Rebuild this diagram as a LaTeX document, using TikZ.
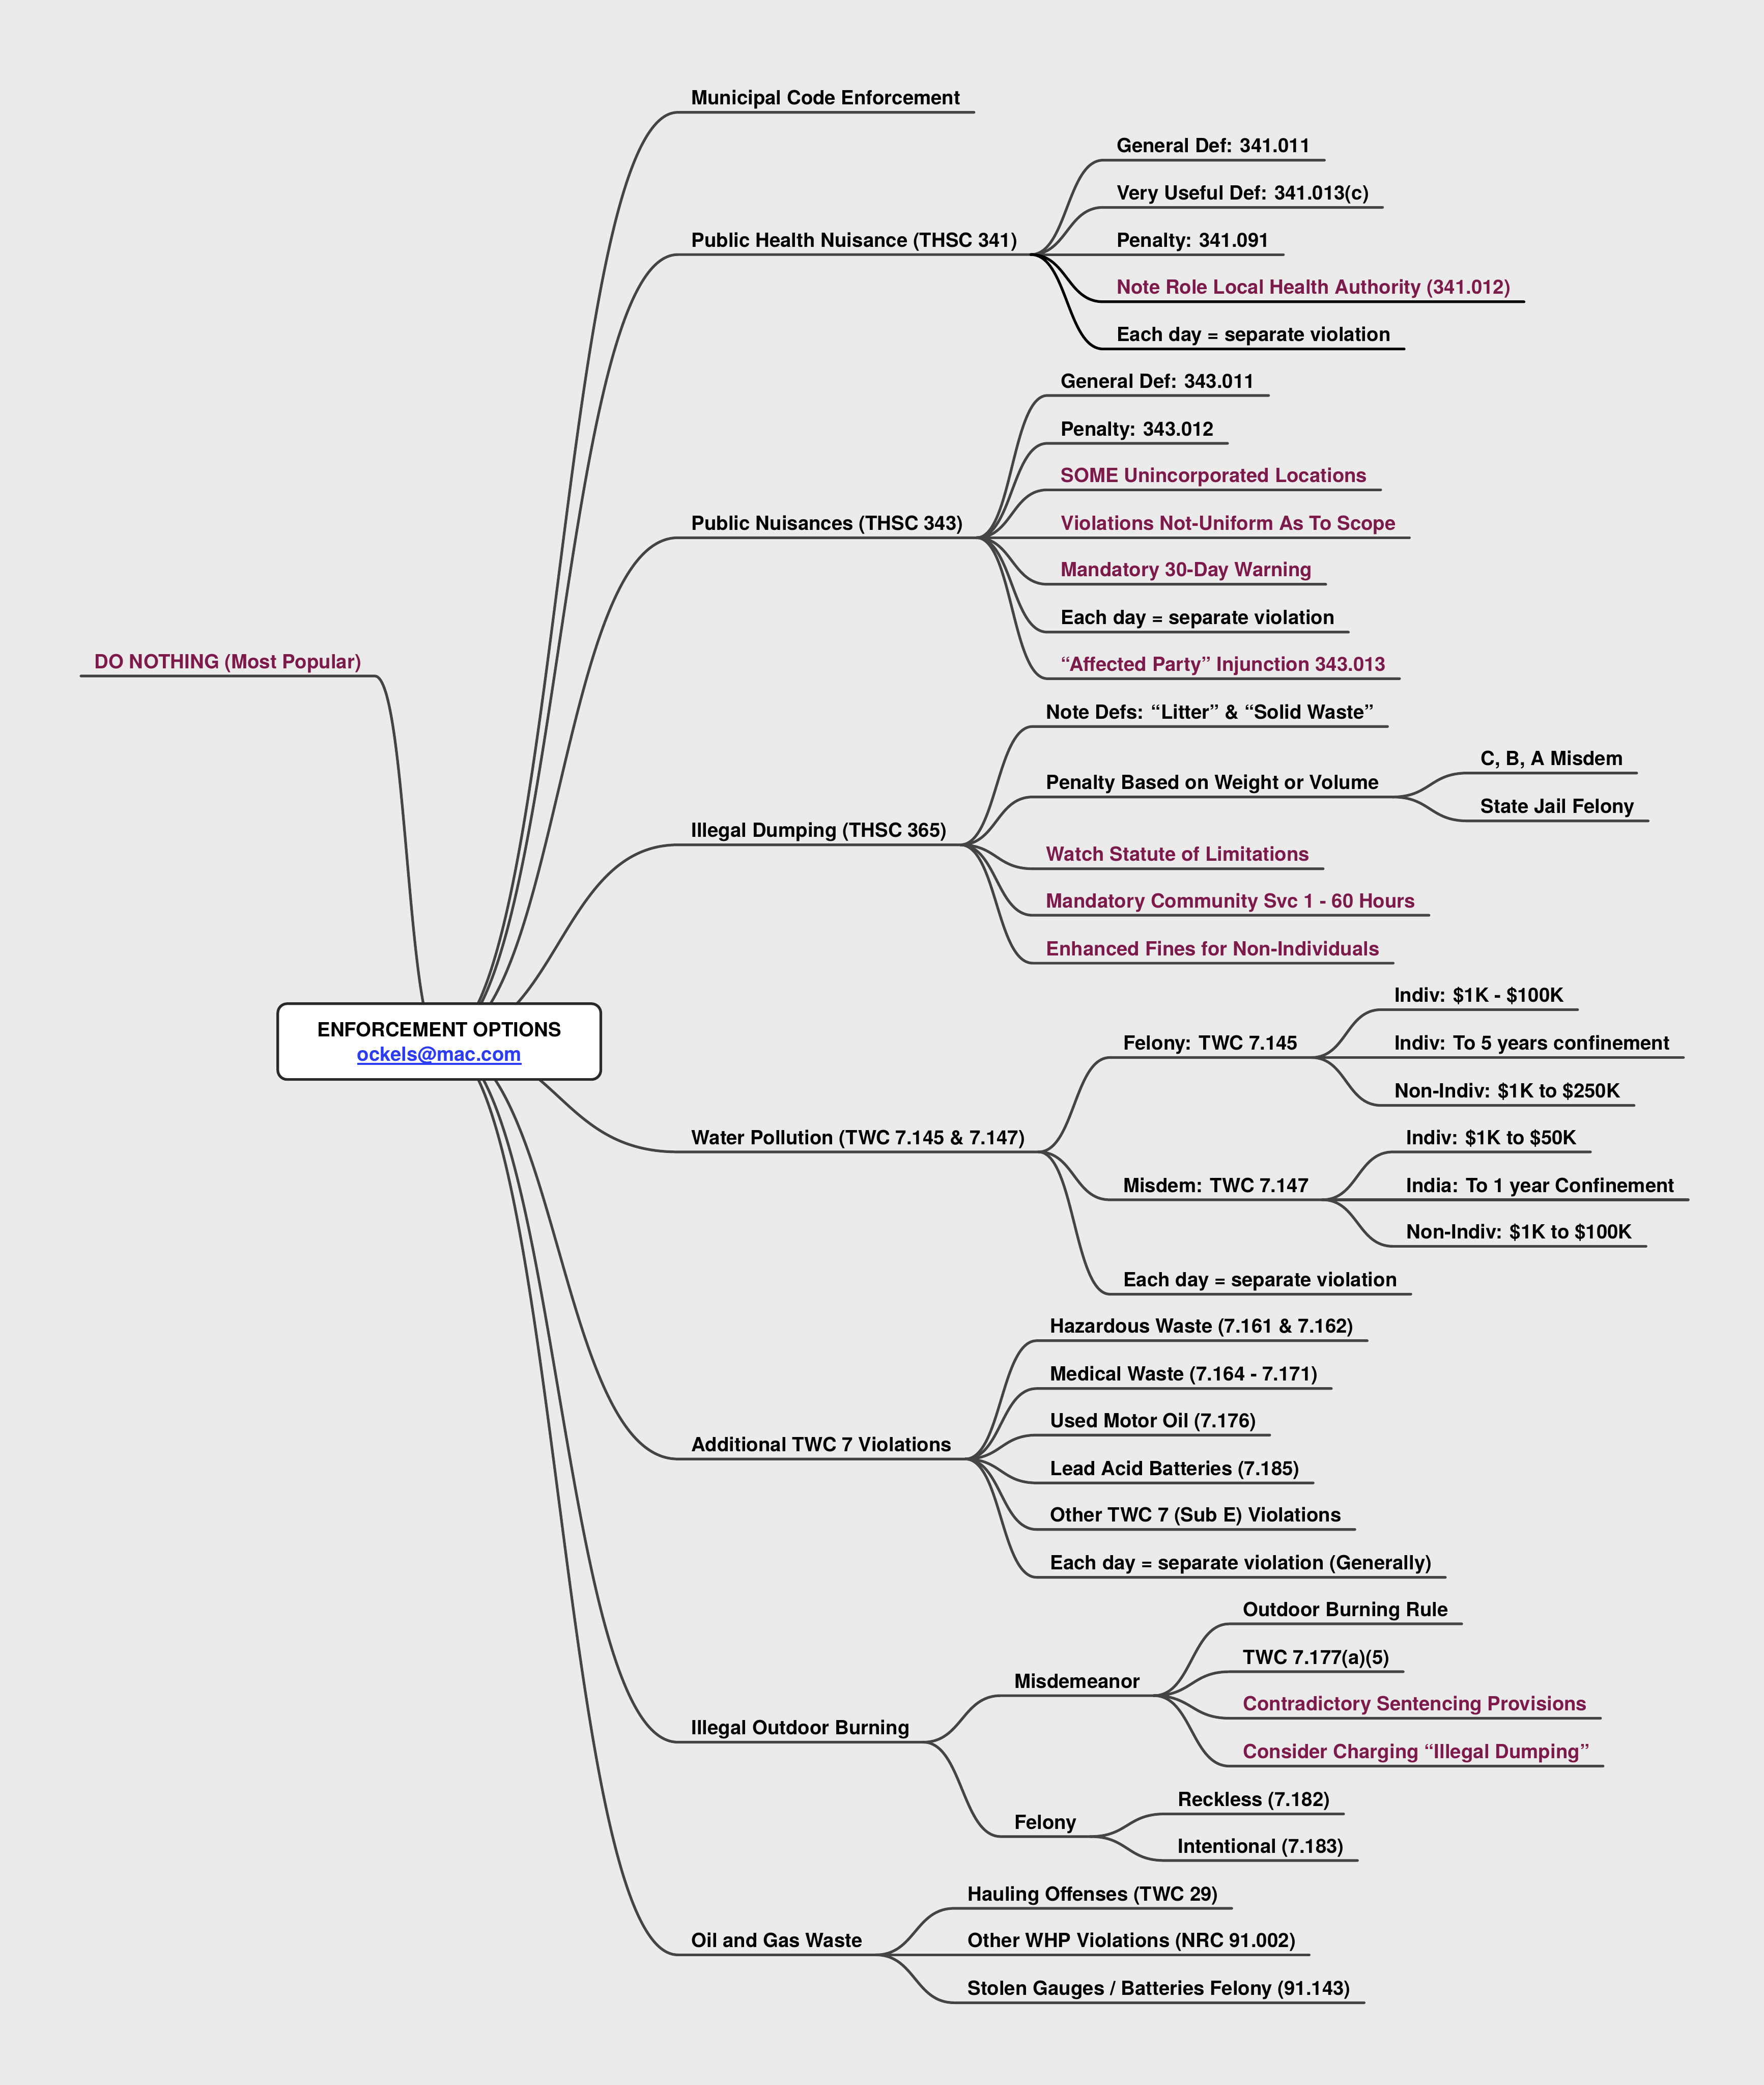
\documentclass[tikz,border=0pt]{standalone}
\usepackage{fontspec}
\setmainfont{TeX Gyre Heros}
\usetikzlibrary{calc}
\definecolor{bgc}{HTML}{EBEBEB}
\definecolor{ln}{HTML}{444444}
\definecolor{purp}{HTML}{7D1A4C}
\definecolor{lnk}{HTML}{2B3CF2}
\definecolor{boxc}{HTML}{2A2A2A}
\pgfdeclarelayer{bg}
\pgfdeclarelayer{edges}
\pgfsetlayers{bg,edges,main}
\newcommand\thickul[1]{\setbox0\hbox{#1}\rlap{\rule[-2.8pt]{\wd0}{1.4pt}}\box0}
\tikzset{
  lbl/.style={font=\fontsize{14.7}{17}\selectfont\bfseries, text=black, inner xsep=10pt, inner ysep=5.5pt, text depth=0pt, text height=11pt, anchor=south west},
  hot/.style={text=purp},
  br/.style={draw=ln, line width=2pt, line cap=round, line join=round},
  blk/.style={draw=black},
}
\newcommand\brto[3][]{%
  \begin{pgfonlayer}{edges}
  \draw[br,#1] let \p1=(#2), \p2=(#3.south west) in (\p1) .. controls ({(\x1+\x2)/2},\y1) and ({(\x1+\x2)/2},\y2) .. (\p2) -- (#3.south east);
  \end{pgfonlayer}}
% [line style]{name}{parent}{x}{y}{node style}{text}
\newcommand\kid[7][]{%
  \node[lbl,#6] (#2) at (#4,#5) {#7};
  \brto[#1]{#3.south east}{#2}}
\begin{document}
\begin{tikzpicture}[x=1pt,y=-1pt]
\begin{pgfonlayer}{bg}
\fill[bgc] (0,0) rectangle (1327,1568.4);
\end{pgfonlayer}
\useasboundingbox (0,0) rectangle (1327,1568.4);

\node[draw=boxc, fill=white, line width=2pt, rounded corners=7pt, minimum width=243pt, minimum height=57pt, align=center, inner sep=0pt, text depth=-3pt, font=\fontsize{14.7}{18.5}\selectfont\bfseries] (root) at (330.5,783.5) {ENFORCEMENT OPTIONS\\{\color{lnk}\thickul{ockels@mac.com}}};

% DO NOTHING
\node[lbl,hot,anchor=south east] (dn) at (282,508.5) {DO NOTHING (Most Popular)};
\begin{pgfonlayer}{edges}
\draw[br] let \p1=(root.center), \p2=(dn.south east) in (\p1) .. controls ({(\x1+\x2)/2},\y1) and ({(\x1+\x2)/2},\y2) .. (\p2) -- (dn.south west);
\end{pgfonlayer}

% level 1
\node[lbl] (mce) at (510,84.5) {Municipal Code Enforcement};
\brto{root.center}{mce}
\node[lbl] (phn) at (510,191.5) {Public Health Nuisance (THSC 341)};
\brto{root.center}{phn}
\node[lbl] (pn) at (510,404.5) {Public Nuisances (THSC 343)};
\brto{root.center}{pn}
\node[lbl] (idp) at (510,635.5) {Illegal Dumping (THSC 365)};
\brto{root.center}{idp}
\node[lbl] (wp) at (510,866.5) {Water Pollution (TWC 7.145 \& 7.147)};
\brto{root.center}{wp}
\node[lbl] (atw) at (510,1097.5) {Additional TWC 7 Violations};
\brto{root.center}{atw}
\node[lbl] (iob) at (510,1310.5) {Illegal Outdoor Burning};
\brto{root.center}{iob}
\node[lbl] (og) at (510,1470.5) {Oil and Gas Waste};
\brto{root.center}{og}

% Public Health Nuisance
\kid{phn1}{phn}{830}{120.5}{}{General Def: 341.011}
\kid{phn2}{phn}{830}{156}{}{Very Useful Def: 341.013(c)}
\kid{phn3}{phn}{830}{191.5}{}{Penalty: 341.091}
\kid[blk]{phn4}{phn}{830}{227}{hot}{Note Role Local Health Authority (341.012)}
\kid[blk]{phn5}{phn}{830}{262.5}{}{Each day = separate violation}

% Public Nuisances
\kid{pn1}{pn}{788}{297.5}{}{General Def: 343.011}
\kid{pn2}{pn}{788}{333.5}{}{Penalty: 343.012}
\kid{pn3}{pn}{788}{368.5}{hot}{SOME Unincorporated Locations}
\kid{pn4}{pn}{788}{404.5}{hot}{Violations Not-Uniform As To Scope}
\kid{pn5}{pn}{788}{439.5}{hot}{Mandatory 30-Day Warning}
\kid{pn6}{pn}{788}{475.5}{}{Each day = separate violation}
\kid{pn7}{pn}{788}{510.5}{hot}{“Affected Party” Injunction 343.013}

% Illegal Dumping
\kid{id1}{idp}{777}{546.5}{}{Note Defs: “Litter” \& “Solid Waste”}
\kid{id2}{idp}{777}{599.5}{}{Penalty Based on Weight or Volume}
\kid{id2a}{id2}{1104}{581.5}{}{C, B, A Misdem}
\kid{id2b}{id2}{1104}{617.5}{}{State Jail Felony}
\kid{id3}{idp}{777}{653.5}{hot}{Watch Statute of Limitations}
\kid{id4}{idp}{777}{688.5}{hot}{Mandatory Community Svc 1 - 60 Hours}
\kid{id5}{idp}{777}{724.5}{hot}{Enhanced Fines for Non-Individuals}

% Water Pollution
\kid{wp1}{wp}{835}{795.5}{}{Felony: TWC 7.145}
\kid{wp1a}{wp1}{1039}{759.5}{}{Indiv: \$1K - \$100K}
\kid{wp1b}{wp1}{1039}{795.5}{}{Indiv: To 5 years confinement}
\kid{wp1c}{wp1}{1039}{831.5}{}{Non-Indiv: \$1K to \$250K}
\kid{wp2}{wp}{835}{902.5}{}{Misdem: TWC 7.147}
\kid{wp2a}{wp2}{1048}{866.5}{}{Indiv: \$1K to \$50K}
\kid{wp2b}{wp2}{1048}{902.5}{}{India: To 1 year Confinement}
\kid{wp2c}{wp2}{1048}{937.5}{}{Non-Indiv: \$1K to \$100K}
\kid{wp3}{wp}{835}{973.5}{}{Each day = separate violation}

% Additional TWC 7
\kid{at1}{atw}{780}{1008.5}{}{Hazardous Waste (7.161 \& 7.162)}
\kid{at2}{atw}{780}{1044.5}{}{Medical Waste (7.164 - 7.171)}
\kid{at3}{atw}{780}{1079.5}{}{Used Motor Oil (7.176)}
\kid{at4}{atw}{780}{1115.5}{}{Lead Acid Batteries (7.185)}
\kid{at5}{atw}{780}{1150.5}{}{Other TWC 7 (Sub E) Violations}
\kid{at6}{atw}{780}{1186.5}{}{Each day = separate violation (Generally)}

% Illegal Outdoor Burning
\kid{ib1}{iob}{753}{1275.5}{}{Misdemeanor}
\kid{ib1a}{ib1}{925}{1221.5}{}{Outdoor Burning Rule}
\kid{ib1b}{ib1}{925}{1257.5}{}{TWC 7.177(a)(5)}
\kid{ib1c}{ib1}{925}{1292.5}{hot}{Contradictory Sentencing Provisions}
\kid{ib1d}{ib1}{925}{1328.5}{hot}{Consider Charging “Illegal Dumping”}
\kid{ib2}{iob}{753}{1381.5}{}{Felony}
\kid{ib2a}{ib2}{876}{1364.5}{}{Reckless (7.182)}
\kid{ib2b}{ib2}{876}{1399.5}{}{Intentional (7.183)}

% Oil and Gas Waste
\kid{og1}{og}{718}{1435.5}{}{Hauling Offenses (TWC 29)}
\kid{og2}{og}{718}{1470.5}{}{Other WHP Violations (NRC 91.002)}
\kid{og3}{og}{718}{1506.5}{}{Stolen Gauges / Batteries Felony (91.143)}
\end{tikzpicture}
\end{document}
